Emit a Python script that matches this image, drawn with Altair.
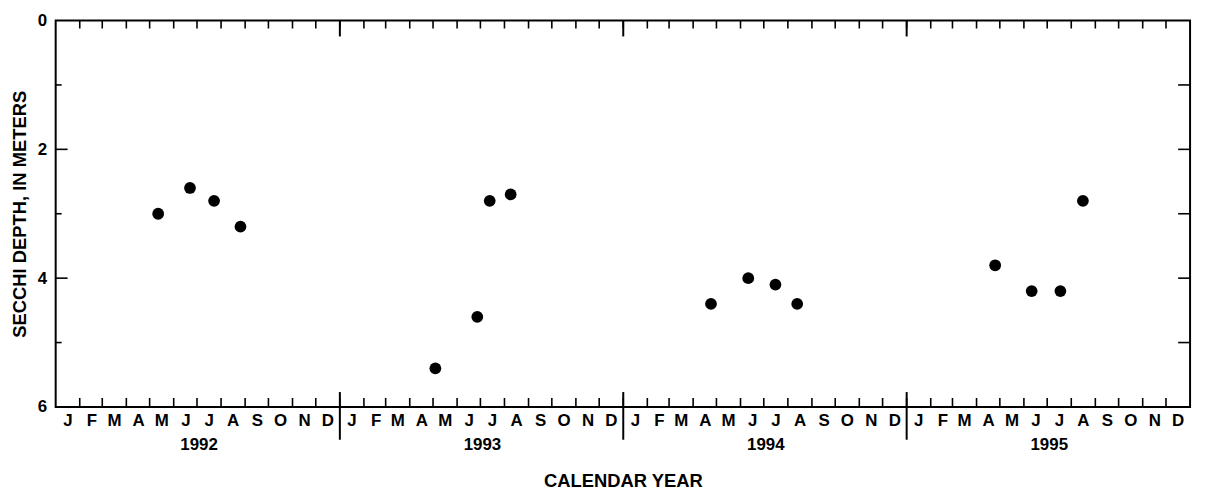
import json
import altair as alt
import pandas as pd

# ---- data ----
SAMPLE_DATES = [
    "1992-05-12", "1992-06-22", "1992-07-23", "1992-08-26",
    "1993-05-04", "1993-06-27", "1993-07-13", "1993-08-09",
    "1994-04-24", "1994-06-11", "1994-07-16", "1994-08-13",
    "1995-04-25", "1995-06-11", "1995-07-18", "1995-08-16",
]
SECCHI_M = [
    3.0, 2.6, 2.8, 3.2,
    5.4, 4.6, 2.8, 2.7,
    4.4, 4.0, 4.1, 4.4,
    3.8, 4.2, 4.2, 2.8,
]
MONTH_LETTERS = ["J", "F", "M", "A", "M", "J", "J", "A", "S", "O", "N", "D"]
YEARS = [1992, 1993, 1994, 1995]
Y_LABELS = [0, 2, 4, 6]
Y_MAJOR_TICKS = [2, 4]
Y_MINOR_TICKS = [1, 3, 5]
Y_RIGHT_TICKS = [1, 2, 3, 4, 5]

W, H = 1142, 389
FONT = "Liberation Sans"

points = pd.DataFrame({"date": SAMPLE_DATES, "depth": SECCHI_M})
month_starts = pd.DataFrame({"date": [f"{y}-{m:02d}-01" for y in YEARS for m in range(1, 13)][1:]})
year_starts = pd.DataFrame({"date": [f"{y}-01-01" for y in YEARS[1:]]})
major_df = pd.DataFrame({"depth": Y_MAJOR_TICKS})
minor_df = pd.DataFrame({"depth": Y_MINOR_TICKS})
right_df = pd.DataFrame({"depth": Y_RIGHT_TICKS})

x_domain = [alt.DateTime(year=YEARS[0], month=1, date=1, utc=True),
            alt.DateTime(year=YEARS[-1] + 1, month=1, date=1, utc=True)]
x_scale = alt.Scale(type="utc", domain=x_domain)
y_scale = alt.Scale(domain=[0, 6], reverse=True, nice=False, zero=False)

label_values = []
for y in YEARS:
    for m in range(1, 13):
        label_values.append(alt.DateTime(year=y, month=m, date=16, utc=True))
    label_values.append(alt.DateTime(year=y, month=7, date=3, utc=True))

letters = json.dumps(MONTH_LETTERS)
label_expr = (f"utcdate(datum.value) == 3 ? ['', '' + utcyear(datum.value)] "
              f": {letters}[utcmonth(datum.value)]")

x_axis = alt.Axis(
    values=label_values, labelExpr=label_expr, ticks=False, tickSize=0,
    domain=False, grid=False, labelOverlap=False, labelFlush=False,
    labelFont=FONT, labelFontSize=17, labelFontWeight="bold", labelColor="black",
    labelPadding=6, labelLineHeight=24,
    title="CALENDAR YEAR", titleFont=FONT, titleFontSize=18.5, titleFontWeight="bold",
    titleColor="black", titlePadding=19,
)
y_axis = alt.Axis(
    values=Y_LABELS, format="d", ticks=False, tickSize=0, domain=False, grid=False,
    labelFont=FONT, labelFontSize=17, labelFontWeight="bold", labelColor="black",
    labelPadding=9, labelFlush=False, labelOverlap=False,
    title="SECCHI DEPTH, IN METERS", titleFont=FONT, titleFontSize=18.5,
    titleFontWeight="bold", titleColor="black", titlePadding=8,
)

XE = dict(scale=x_scale, axis=x_axis)
YE = dict(scale=y_scale, axis=y_axis)

pts = alt.Chart(points).mark_circle(size=140, color="black", opacity=1).encode(
    x=alt.X("date:T", **XE),
    y=alt.Y("depth:Q", **YE),
)

tick_style = dict(color="black", strokeWidth=1.6)
top_month = alt.Chart(month_starts).mark_rule(**tick_style).encode(
    x=alt.X("date:T", **XE), y=alt.value(0), y2=alt.value(8))
bot_month = alt.Chart(month_starts).mark_rule(**tick_style).encode(
    x=alt.X("date:T", **XE), y=alt.value(H - 9), y2=alt.value(H))
top_year = alt.Chart(year_starts).mark_rule(color="black", strokeWidth=2).encode(
    x=alt.X("date:T", **XE), y=alt.value(0), y2=alt.value(16))
bot_year = alt.Chart(year_starts).mark_rule(color="black", strokeWidth=2).encode(
    x=alt.X("date:T", **XE), y=alt.value(H - 15), y2=alt.value(H + 33))
left_major = alt.Chart(major_df).mark_rule(**tick_style).encode(
    y=alt.Y("depth:Q", **YE), x=alt.value(0), x2=alt.value(12))
left_minor = alt.Chart(minor_df).mark_rule(**tick_style).encode(
    y=alt.Y("depth:Q", **YE), x=alt.value(0), x2=alt.value(6))
right_ticks = alt.Chart(right_df).mark_rule(**tick_style).encode(
    y=alt.Y("depth:Q", **YE), x=alt.value(W - 12), x2=alt.value(W))

chart = alt.layer(
    pts, top_month, bot_month, top_year, bot_year, left_major, left_minor, right_ticks
).properties(
    width=W, height=H,
    autosize=alt.AutoSizeParams(type="none"),
    padding={"left": 48, "top": 11, "right": 9, "bottom": 86},
    background="white",
).configure_view(stroke="black", strokeWidth=2)

chart.save("out.html", embed_options={"renderer": "svg", "actions": False})
